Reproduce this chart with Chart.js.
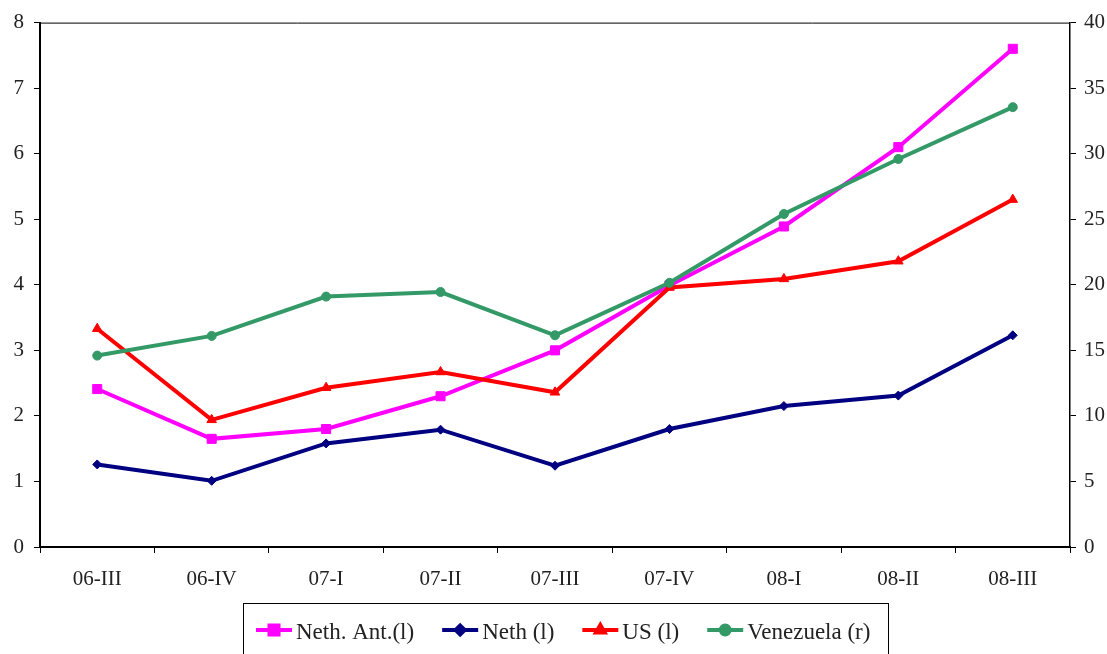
<!DOCTYPE html>
<html>
<head>
<meta charset="utf-8">
<script src="https://cdn.jsdelivr.net/npm/chart.js@4.4.0/dist/chart.umd.min.js"></script>
<style>
  html, body { margin: 0; padding: 0; background: #fff; }
  #wrap { width: 1107px; height: 654px; position: relative; overflow: hidden; }
</style>
</head>
<body>
<div id="wrap"><canvas id="chart"></canvas></div>
<script>
// -----------------------
// Data
// -----------------------
const quarters = ['06-III', '06-IV', '07-I', '07-II', '07-III', '07-IV', '08-I', '08-II', '08-III'];
const nethAnt = [2.41, 1.65, 1.80, 2.30, 3.00, 3.99, 4.89, 6.10, 7.60];
const neth = [1.26, 1.01, 1.58, 1.79, 1.24, 1.80, 2.15, 2.31, 3.23];
const us = [3.33, 1.94, 2.43, 2.67, 2.36, 3.96, 4.09, 4.36, 5.30];
const venezuela = [14.6, 16.1, 19.1, 19.45, 16.15, 20.15, 25.4, 29.6, 33.55];
const leftTicks = [0, 1, 2, 3, 4, 5, 6, 7, 8];
const rightTicks = [0, 5, 10, 15, 20, 25, 30, 35, 40];

const FONT = "'Liberation Serif', 'Times New Roman', serif";
const TEXT = '#222';

// -----------------------
// Plugins
// -----------------------
// thin frame along the top of the plot area
const plotFrame = {
  id: 'plotFrame',
  beforeDatasetsDraw(chart) {
    const { ctx, chartArea: a } = chart;
    ctx.save();
    ctx.strokeStyle = '#000';
    ctx.lineWidth = 1;
    ctx.beginPath();
    ctx.moveTo(a.left, a.top + 0.5);
    ctx.lineTo(a.right, a.top + 0.5);
    ctx.stroke();
    ctx.restore();
  }
};

// boxed legend with line + marker swatches
const boxLegend = {
  id: 'boxLegend',
  afterDraw(chart) {
    const { ctx } = chart;
    ctx.save();
    ctx.strokeStyle = '#000';
    ctx.lineWidth = 1;
    ctx.strokeRect(243.5, 603.5, 645, 60);

    ctx.font = `23px ${FONT}`;
    ctx.textBaseline = 'alphabetic';
    const y = 630;
    let x = 256;
    chart.data.datasets.forEach(ds => {
      ctx.strokeStyle = ds.borderColor;
      ctx.lineWidth = 4;
      ctx.beginPath();
      ctx.moveTo(x, y);
      ctx.lineTo(x + 36, y);
      ctx.stroke();
      ctx.fillStyle = ds.borderColor;
      Chart.helpers.drawPoint(ctx, {
        pointStyle: ds.pointStyle,
        radius: ds.pointStyle === 'triangle' ? 5 : ds.pointRadius,
        borderWidth: 1
      }, x + 18, y);
      ctx.fill();
      ctx.fillStyle = TEXT;
      ctx.fillText(ds.label, x + 40, y + 9);
      x += 40 + ctx.measureText(ds.label).width + 28;
    });
    ctx.restore();
  }
};

// -----------------------
// Chart
// -----------------------
function series(label, data, color, style, radius, axis, order) {
  return {
    label, data, yAxisID: axis, order,
    borderColor: color,
    backgroundColor: color,
    pointBackgroundColor: color,
    pointBorderColor: color,
    pointStyle: style,
    pointRadius: radius,
    pointBorderWidth: 1,
    borderWidth: 4,
    tension: 0
  };
}

function initChart() {
  const ctx = document.getElementById('chart').getContext('2d');
  new Chart(ctx, {
    type: 'line',
    data: {
      labels: quarters,
      datasets: [
        series('Neth. Ant.(l)', nethAnt, '#FF00FF', 'rect', 6.4, 'y', 4),
        series('Neth (l)', neth, '#000080', 'rectRot', 4.5, 'y', 3),
        series('US (l)', us, '#FF0000', 'triangle', 5.5, 'y', 2),
        series('Venezuela (r)', venezuela, '#339966', 'circle', 4.5, 'y1', 1)
      ]
    },
    options: {
      responsive: true,
      maintainAspectRatio: false,
      animation: false,
      layout: { padding: { top: 22, left: 0, right: 0, bottom: 0 } },
      plugins: { legend: { display: false }, tooltip: { enabled: false } },
      scales: {
        x: {
          offset: true,
          grid: { offset: true, drawOnChartArea: false, drawTicks: true, tickLength: 6, tickColor: '#000', tickWidth: 1 },
          border: { color: '#000', width: 2 },
          ticks: { color: TEXT, font: { family: FONT, size: 21 }, padding: 14, maxRotation: 0 },
          afterFit: s => { s.height = 107; }
        },
        y: {
          position: 'left',
          min: leftTicks[0], max: leftTicks[leftTicks.length - 1],
          afterBuildTicks: s => { s.ticks = leftTicks.map(v => ({ value: v })); },
          grid: { drawOnChartArea: false, tickLength: 6, tickColor: '#000', tickWidth: 1 },
          border: { color: '#000', width: 2 },
          ticks: { color: TEXT, font: { family: FONT, size: 21 }, padding: 10 },
          afterFit: s => { s.width = 40; }
        },
        y1: {
          position: 'right',
          min: rightTicks[0], max: rightTicks[rightTicks.length - 1],
          afterBuildTicks: s => { s.ticks = rightTicks.map(v => ({ value: v })); },
          grid: { drawOnChartArea: false, tickLength: 6, tickColor: '#000', tickWidth: 1 },
          border: { color: '#000', width: 1.5 },
          ticks: { color: TEXT, font: { family: FONT, size: 21 }, padding: 8 },
          afterFit: s => { s.width = 37; }
        }
      }
    },
    plugins: [plotFrame, boxLegend]
  });
}

document.addEventListener('DOMContentLoaded', initChart);
</script>
</body>
</html>
